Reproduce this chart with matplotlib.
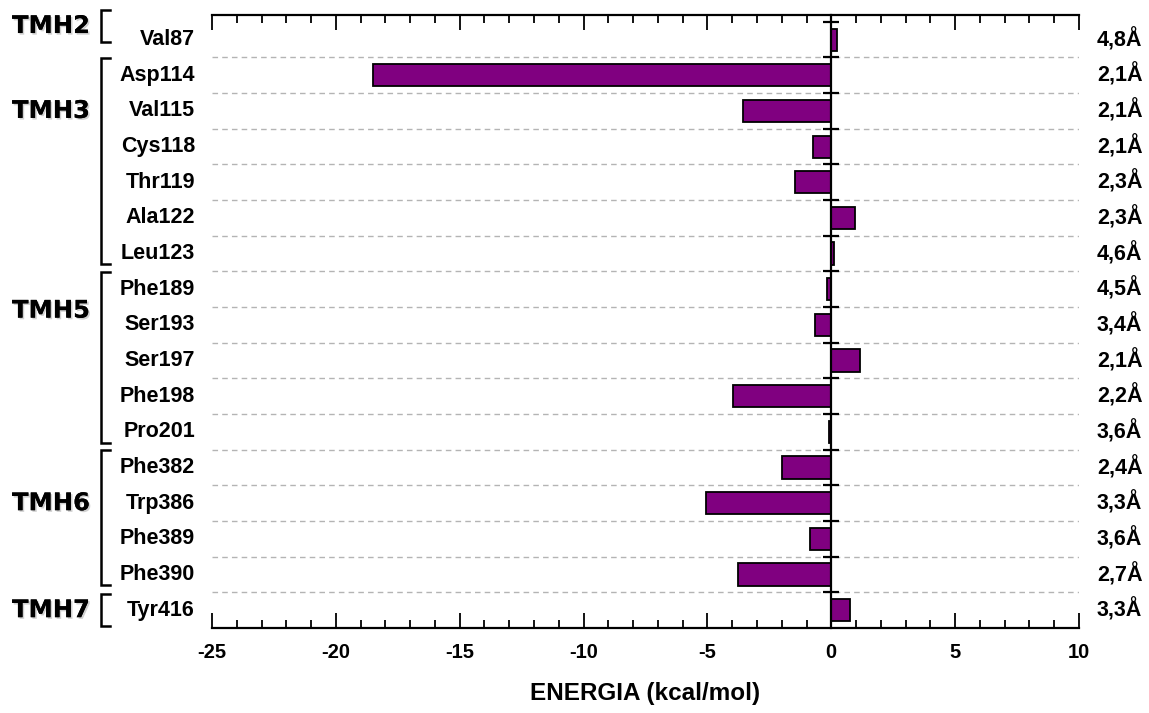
import matplotlib
matplotlib.use("Agg")
import matplotlib.pyplot as plt
import matplotlib.patheffects as pe
from matplotlib.transforms import blended_transform_factory
from matplotlib.ticker import MultipleLocator

plt.rcParams["axes.unicode_minus"] = False

# residues (top to bottom), energy in kcal/mol, distance labels
residues = ["Val87", "Asp114", "Val115", "Cys118", "Thr119", "Ala122", "Leu123",
            "Phe189", "Ser193", "Ser197", "Phe198", "Pro201",
            "Phe382", "Trp386", "Phe389", "Phe390", "Tyr416"]
energy = [0.25, -18.5, -3.56, -0.73, -1.46, 0.97, 0.1,
          -0.18, -0.65, 1.17, -3.97, -0.08,
          -2.0, -5.06, -0.85, -3.77, 0.77]
distances = ["4,8Å", "2,1Å", "2,1Å", "2,1Å", "2,3Å", "2,3Å", "4,6Å",
             "4,5Å", "3,4Å", "2,1Å", "2,2Å", "3,6Å",
             "2,4Å", "3,3Å", "3,6Å", "2,7Å", "3,3Å"]

# helix groups: name, first row, last row
groups = ["TMH2", "TMH3", "TMH5", "TMH6", "TMH7"]
group_first = [0, 1, 7, 12, 16]
group_last = [0, 6, 11, 15, 16]
group_label_y = [-0.38, 2.0, 7.6, 13.0, 16.0]

xticks_major = [-25, -20, -15, -10, -5, 0, 5, 10]

FONT = "Liberation Sans"

fig = plt.figure(figsize=(11.49, 7.13), dpi=100)
ax = fig.add_axes([0.1845, 0.1192, 0.7546, 0.8598])

n = len(residues)
rows = list(range(n))

# dashed separators between rows
for i in range(n - 1):
    ax.axhline(i + 0.5, color="#b4b4b4", lw=1.0, ls=(0, (4, 3)), zorder=1)

ax.barh(rows, energy, height=0.62, color="#800080", edgecolor="black",
        linewidth=1.3, zorder=2)

ax.set_xlim(-25, 10)
ax.set_ylim(n - 0.5, -0.69)

# spines: zero line carries row ticks, top/bottom with inward ticks
ax.spines["left"].set_position(("data", 0))
ax.spines["left"].set_linewidth(1.6)
ax.spines["left"].set_zorder(3)
ax.spines["right"].set_visible(False)
ax.spines["top"].set_linewidth(1.6)
ax.spines["bottom"].set_linewidth(1.6)

ax.set_yticks([i - 0.5 for i in range(n)])
ax.set_yticklabels([])
ax.tick_params(axis="y", direction="inout", length=11, width=1.6, left=True,
               right=False)

ax.set_xticks(xticks_major)
ax.xaxis.set_minor_locator(MultipleLocator(1))
ax.tick_params(axis="x", which="major", direction="in", length=11, width=1.3,
               top=True, bottom=True, pad=11)
ax.tick_params(axis="x", which="minor", direction="in", length=6, width=1.3,
               top=True, bottom=True)
for lab in ax.get_xticklabels():
    lab.set_fontfamily(FONT)
    lab.set_fontweight("bold")
    lab.set_fontsize(14.5)

ax.set_xlabel("ENERGIA (kcal/mol)", fontfamily=FONT, fontweight="bold",
              fontsize=17.5, labelpad=14)

trans = blended_transform_factory(fig.transFigure, ax.transData)

# residue names and distances
for i, (r, d) in enumerate(zip(residues, distances)):
    ax.text(0.1697, i, r, transform=trans, ha="right", va="center",
            fontfamily=FONT, fontweight="bold", fontsize=15.5, clip_on=False)
    ax.text(0.9547, i, d, transform=trans, ha="left", va="center",
            fontfamily=FONT, fontweight="bold", fontsize=15.5, clip_on=False)

# group brackets and labels
shadow = [pe.withSimplePatchShadow(offset=(1.2, -1.2), shadow_rgbFace="0.55",
                                   alpha=0.4), pe.Normal()]
for g, a, b, ly in zip(groups, group_first, group_last, group_label_y):
    if a == b:
        top, bot = ly - 0.45, ly + 0.45
    else:
        top, bot = a - 0.49, b + 0.3
    ax.plot([0.0957, 0.088, 0.088, 0.0957], [top, top, bot, bot],
            transform=trans, color="black", lw=1.8, clip_on=False,
            solid_joinstyle="miter")
    ax.text(0.0104, ly, g, transform=trans, ha="left", va="center",
            fontfamily="DejaVu Sans", fontweight="bold", fontsize=17.5,
            path_effects=shadow, clip_on=False)

fig.savefig("out.png", dpi=100)
